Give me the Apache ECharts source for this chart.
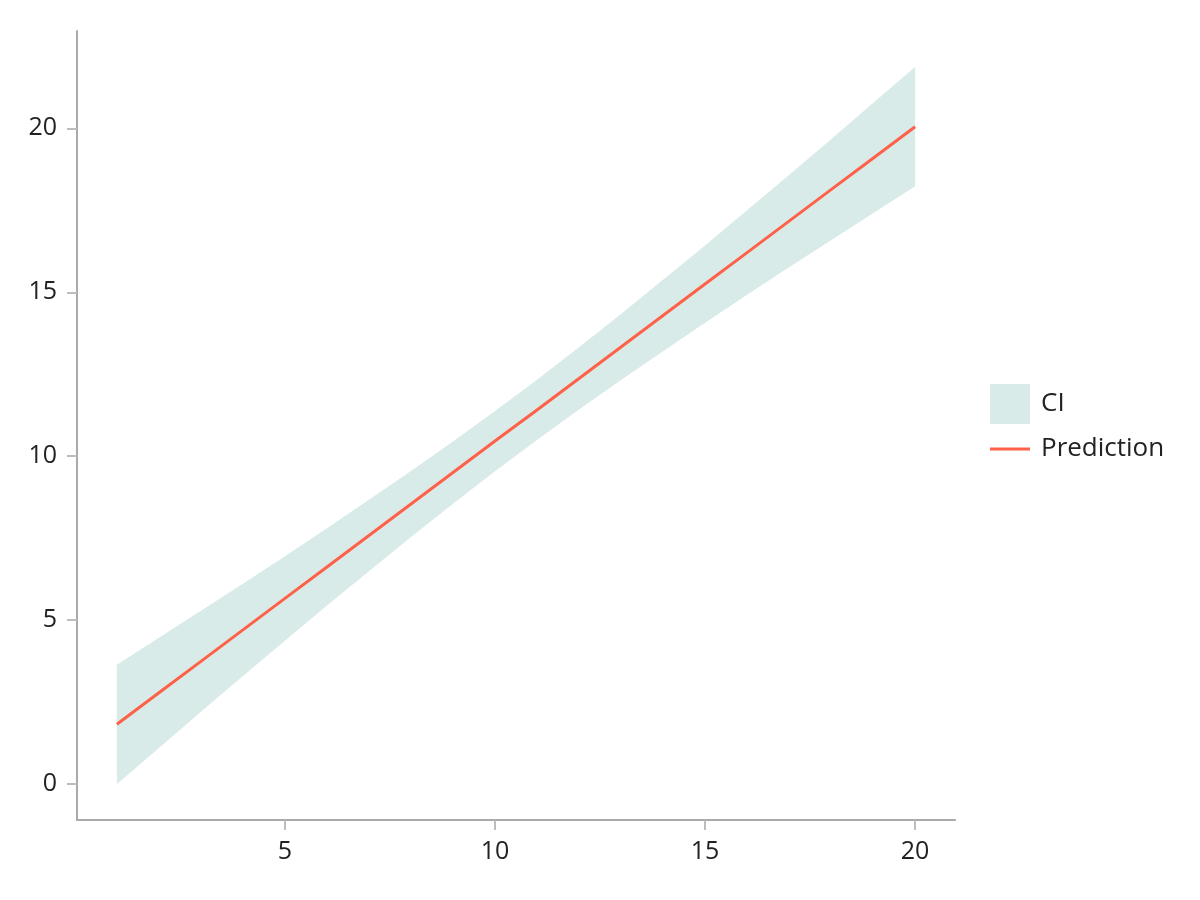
<!DOCTYPE html>
<html>
<head>
<meta charset="utf-8">
<script src="https://cdn.jsdelivr.net/npm/echarts@6/dist/echarts.min.js"></script>
<style>html,body{margin:0;padding:0;background:#fff}#c{width:1200px;height:900px}</style>
</head>
<body>
<div id="c"></div>
<script>
const xValues = [1,2,3,4,5,6,7,8,9,10,11,12,13,14,15,16,17,18,19,20];
const prediction = [1.82,2.78,3.74,4.70,5.66,6.62,7.58,8.54,9.50,10.46,11.41,12.37,13.33,14.29,15.25,16.21,17.17,18.13,19.09,20.05];
const ciLower = [0.00,1.10,2.20,3.29,4.37,5.44,6.49,7.53,8.55,9.54,10.49,11.42,12.32,13.20,14.07,14.92,15.76,16.59,17.41,18.23];
const ciUpper = [3.64,4.46,5.28,6.11,6.95,7.80,8.67,9.55,10.45,11.38,12.33,13.32,14.34,15.38,16.43,17.50,18.58,19.67,20.77,21.87];
const xTicks = [5,10,15,20];
const yTicks = [0,5,10,15,20];

const FONT = '"Open Sans", sans-serif';
const BAND = '#d8ebe9';
const LINE = '#fe6148';

const chart = echarts.init(document.getElementById('c'), null, {renderer:'canvas'});
const bandData = xValues.map((x,i)=>[x, ciLower[i], ciUpper[i]]);
const predData = xValues.map((x,i)=>[x, prediction[i]]);

function renderBand(params, api){
  if (params.dataIndex !== 0) return null;
  const pts = [];
  for (let i = 0; i < xValues.length; i++) pts.push(api.coord([xValues[i], ciUpper[i]]));
  for (let i = xValues.length - 1; i >= 0; i--) pts.push(api.coord([xValues[i], ciLower[i]]));
  return {
    type:'polygon',
    shape:{points:pts},
    style:{fill:BAND, stroke:null}
  };
}

const textStyle = {fontFamily:FONT, fontSize:26, color:'#222', padding:[3,0,0,6]};

chart.setOption({
  animation:false,
  backgroundColor:'#ffffff',
  grid:{left:77, right:245, top:31, bottom:80, containLabel:false},
  legend:[
    {
      orient:'vertical', left:990, top:384, padding:0,
      itemWidth:40, itemHeight:40,
      textStyle:textStyle,
      data:[{name:'CI', icon:'rect', itemStyle:{color:BAND}}]
    },
    {
      orient:'vertical', left:990, top:436, padding:0,
      itemWidth:40, itemHeight:3,
      textStyle:textStyle,
      data:[{name:'Prediction', icon:'rect', itemStyle:{color:LINE}}]
    }
  ],
  xAxis:{
    type:'value', min:0.05, max:20.95,
    axisLine:{show:true, onZero:false, lineStyle:{color:'#aaaaaa', width:2}},
    axisTick:{show:true, length:10, customValues:xTicks, lineStyle:{color:'#bdbdbd', width:2}},
    axisLabel:{customValues:xTicks, fontFamily:FONT, fontSize:25, color:'#222', margin:19},
    splitLine:{show:false}
  },
  yAxis:{
    type:'value', min:-1.1, max:22.97,
    axisLine:{show:true, onZero:false, lineStyle:{color:'#aaaaaa', width:2}},
    axisTick:{show:true, length:10, customValues:yTicks, lineStyle:{color:'#bdbdbd', width:2}},
    axisLabel:{customValues:yTicks, fontFamily:FONT, fontSize:25, color:'#222', margin:20},
    splitLine:{show:false}
  },
  series:[
    {name:'CI', type:'custom', data:bandData, renderItem:renderBand,
     encode:{x:0, y:[1,2]}, itemStyle:{color:BAND}, silent:true, z:1},
    {name:'Prediction', type:'line', data:predData, symbol:'none', showSymbol:false,
     lineStyle:{color:LINE, width:3}, itemStyle:{color:LINE}, z:3}
  ]
});
</script>
</body>
</html>
